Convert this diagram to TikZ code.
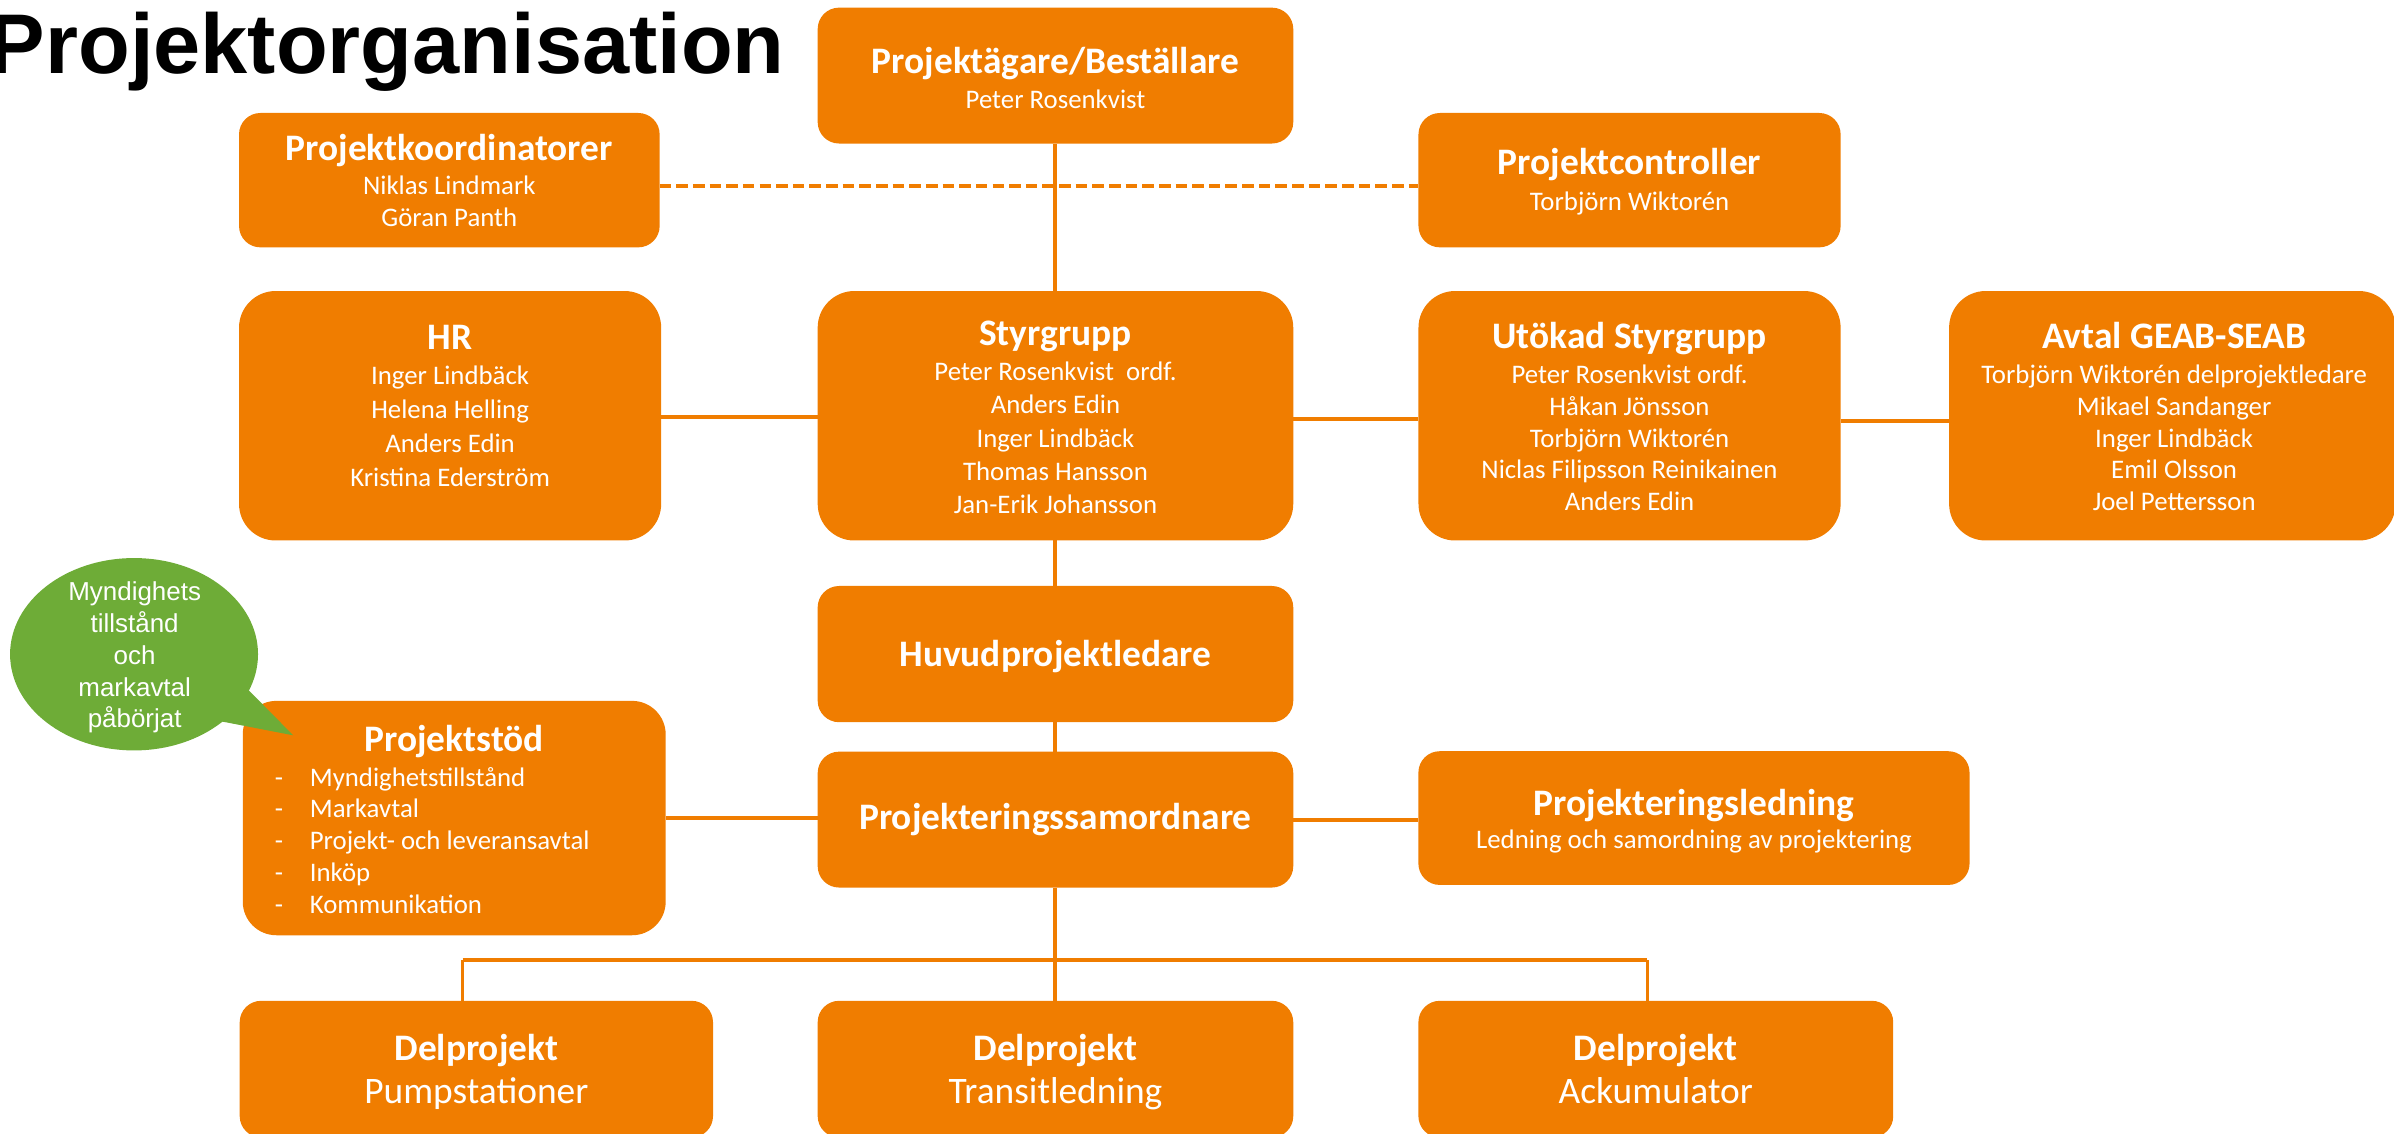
\documentclass[tikz,border=0pt]{standalone}
\usepackage{fontspec}
\setmainfont{Carlito}
\newfontfamily\arialfont{Liberation Sans}
\usetikzlibrary{shapes.geometric}
\definecolor{orgorange}{RGB}{240,125,0}
\definecolor{bubblegreen}{RGB}{110,172,55}
\begin{document}
\begin{tikzpicture}[x=1pt,y=-1pt,
  orgbox/.style={rectangle, fill=orgorange, draw=none, inner sep=0pt, outer sep=0pt},
  smallbox/.style={orgbox, rounded corners=14pt},
  tallbox/.style={orgbox, rounded corners=24pt},
  ttl/.style={anchor=base, inner sep=0pt, text=white, font=\fontsize{24.5}{29}\selectfont\bfseries},
  sub/.style={anchor=base, inner sep=0pt, text=white, font=\fontsize{24.5}{29}\selectfont},
  body/.style={anchor=base, inner sep=0pt, text=white, font=\fontsize{17.55}{#1}\selectfont},
  body/.default=21.5,
  link/.style={draw=orgorange, line width=2.6pt},
  droplink/.style={draw=orgorange, line width=2pt},
  dashlink/.style={draw=orgorange, line width=2.6pt, dash pattern=on 7.6pt off 3.3pt}
]
\useasboundingbox (0,0) rectangle (1568,742.7);

% title
\node[anchor=base west, inner sep=0pt, font=\arialfont\fontsize{55.5}{60}\selectfont\bfseries] (title) at (-7.5,48) {Projektorganisation};

% boxes
\node[smallbox, minimum width=311.5pt, minimum height=89pt] (pa) at (691.3,49.5) {};
\node[smallbox, minimum width=275.5pt, minimum height=88pt] (pk) at (294.3,118) {};
\node[smallbox, minimum width=276.5pt, minimum height=88pt] (pc) at (1067.3,118) {};
\node[tallbox, minimum width=276.5pt, minimum height=163.4pt] (hr) at (294.8,272.3) {};
\node[tallbox, minimum width=311.5pt, minimum height=163.4pt] (sg) at (691.3,272.3) {};
\node[tallbox, minimum width=276.5pt, minimum height=163.4pt] (us) at (1067.3,272.3) {};
\node[tallbox, minimum width=292.4pt, minimum height=163.4pt] (av) at (1422.8,272.3) {};
\node[smallbox, minimum width=311.5pt, minimum height=89.2pt] (hp) at (691.3,428.4) {};
\node[tallbox, rounded corners=22pt, minimum width=277pt, minimum height=153.5pt] (ps) at (297.5,535.8) {};
\node[smallbox, minimum width=311.5pt, minimum height=89pt] (psm) at (691.3,536.8) {};
\node[smallbox, minimum width=361pt, minimum height=87.6pt] (pl) at (1109.5,535.8) {};
\node[smallbox, minimum width=310pt, minimum height=89.5pt] (d1) at (312,700.25) {};
\node[smallbox, minimum width=311.5pt, minimum height=89.5pt] (d2) at (691.3,700.25) {};
\node[smallbox, minimum width=311pt, minimum height=89.5pt] (d3) at (1084.5,700.25) {};

% texts
\node[ttl] (pa-t) at (691.3,48) {Projektägare/Beställare};
\node[body] (pa-b) at (691.3,71) {Peter Rosenkvist};

\node[ttl] (pk-t) at (294.3,104.8) {Projektkoordinatorer};
\node[body=20.8] (pk-b) at (294.3,127.7) {\begin{tabular}[t]{@{}c@{}}Niklas Lindmark\\Göran Panth\end{tabular}};

\node[ttl] (pc-t) at (1067.3,114.6) {Projektcontroller};
\node[body] (pc-b) at (1067.3,138) {Torbjörn Wiktorén};

\node[ttl] (hr-t) at (294.8,229) {HR};
\node[body=22.3] (hr-b) at (294.8,252) {\begin{tabular}[t]{@{}c@{}}Inger Lindbäck\\Helena Helling\\Anders Edin\\Kristina Ederström\end{tabular}};

\node[ttl] (sg-t) at (691.3,226) {Styrgrupp};
\node[body=21.9] (sg-b) at (691.3,249) {\begin{tabular}[t]{@{}c@{}}Peter Rosenkvist\ \ ordf.\\Anders Edin\\Inger Lindbäck\\Thomas Hansson\\Jan-Erik Johansson\end{tabular}};

\node[ttl] (us-t) at (1067.3,228) {Utökad Styrgrupp};
\node[body=20.9] (us-b) at (1067.3,251) {\begin{tabular}[t]{@{}c@{}}Peter Rosenkvist ordf.\\Håkan Jönsson\\Torbjörn Wiktorén\\Niclas Filipsson Reinikainen\\Anders Edin\end{tabular}};

\node[ttl] (av-t) at (1424,228) {Avtal GEAB-SEAB};
\node[body=20.9] (av-b) at (1424,251) {\begin{tabular}[t]{@{}c@{}}Torbjörn Wiktorén delprojektledare\\Mikael Sandanger\\Inger Lindbäck\\Emil Olsson\\Joel Pettersson\end{tabular}};

\node[ttl] (hp-t) at (691.3,436.7) {Huvudprojektledare};

\node[ttl] (ps-t) at (297.5,491.9) {Projektstöd};
\node[body=20.8, anchor=base west] (ps-b) at (179.8,514.8) {\begin{tabular}[t]{@{}l@{\hspace{17.6pt}}l@{}}-&Myndighetstillstånd\\-&Markavtal\\-&Projekt- och leveransavtal\\-&Inköp\\-&Kommunikation\end{tabular}};

\node[ttl] (psm-t) at (691.3,543.6) {Projekteringssamordnare};

\node[ttl] (pl-t) at (1109.5,533.8) {Projekteringsledning};
\node[body] (pl-b) at (1109.5,556) {Ledning och samordning av projektering};

\node[ttl] (d1-t) at (312,694.3) {Delprojekt};
\node[sub] (d1-b) at (312,723) {Pumpstationer};
\node[ttl] (d2-t) at (691.3,694.3) {Delprojekt};
\node[sub] (d2-b) at (691.3,723) {Transitledning};
\node[ttl] (d3-t) at (1084.5,694.3) {Delprojekt};
\node[sub] (d3-b) at (1084.5,723) {Ackumulator};

% connectors
\draw[link] (pa.south) -- (sg.north);
\draw[link] (sg.south) -- (hp.north);
\draw[link] (hp.south) -- (psm.north);
\draw[link] (psm.south) -- (d2.north);
\draw[dashlink] ([yshift=-3.6pt]pk.east) -- ([yshift=-3.6pt]pc.west);
\draw[link] ([yshift=-0.6pt]hr.east) -- ([yshift=-0.6pt]sg.west);
\draw[link] ([yshift=-2.2pt]sg.east) -- ([yshift=-2.2pt]us.west);
\draw[link] ([yshift=-3.5pt]us.east) -- ([yshift=-3.5pt]av.west);
\draw[link] (ps.east) -- (ps.east -| psm.west);
\draw[link] (psm.east) -- (psm.east -| pl.west);
\coordinate (busL) at (303,629);
\coordinate (busR) at (1079,629);
\draw[link] (busL) -- (busR);
\draw[droplink] (busL) -- (busL |- d1.north);
\draw[droplink] (busR) -- (busR |- d3.north);

% speech bubble
\node[ellipse, fill=bubblegreen, draw=none, inner sep=0pt, minimum width=162.4pt, minimum height=126pt] (bubble) at (87.8,428.5) {};
\fill[bubblegreen] (156.8,445.9) -- (192,481.6) -- (136.8,470.9) -- cycle;
\node[anchor=base, inner sep=0pt, text=white, font=\arialfont\fontsize{17}{20.8}\selectfont] (bubble-t) at (88.2,393.6) {\begin{tabular}[t]{@{}c@{}}Myndighets\\tillstånd\\och\\markavtal\\påbörjat\end{tabular}};
\end{tikzpicture}
\end{document}
